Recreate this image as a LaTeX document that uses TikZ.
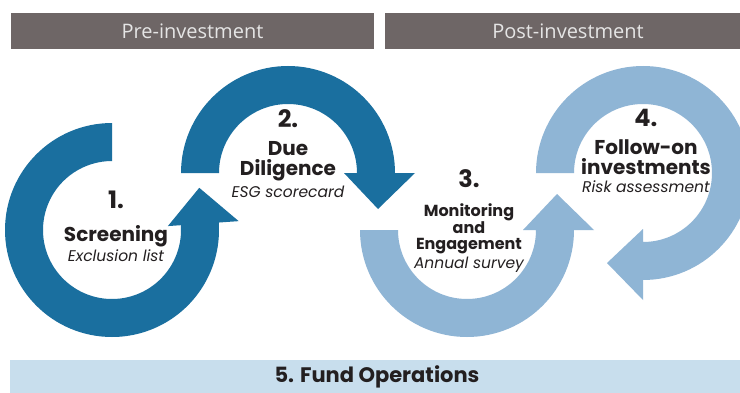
\documentclass[tikz,border=0pt]{standalone}
\usepackage{fontspec}
\setmainfont{Poppins}
\newfontfamily\phasefont{Open Sans}
\usetikzlibrary{positioning, calc}
\definecolor{darkstep}{RGB}{26,111,159}
\definecolor{lightstep}{RGB}{143,181,213}
\definecolor{phasegray}{RGB}{110,102,102}
\definecolor{opsblue}{RGB}{200,222,237}
\definecolor{inkcolor}{RGB}{35,31,32}

\begin{document}
\begin{tikzpicture}[
    x=1pt, y=1pt,
    phase/.style={fill=phasegray, text=white!90!black, minimum height=36pt, inner sep=0pt, font=\phasefont\fontsize{20}{22}\selectfont},
    stepnum/.style={text=inkcolor, inner sep=1pt, font=\bfseries\fontsize{24}{24}\selectfont},
    steptitle/.style={text=inkcolor, inner sep=1pt, align=center, font=\bfseries\fontsize{20}{20}\selectfont},
    stepnote/.style={text=inkcolor, inner sep=1pt, font=\itshape\fontsize{15.5}{17}\selectfont},
    opsbar/.style={fill=opsblue, text=inkcolor, minimum height=34pt, inner sep=0pt, font=\bfseries\fontsize{21}{22}\selectfont}
]
    \useasboundingbox (0,0) rectangle (740,392);
    \clip (0,0) rectangle (740,392);
    \fill[white] (0,0) rectangle (740,392);

    % Phase headers
    \node[phase, minimum width=363pt] (prephase) at (192.5,361) {Pre-investment};
    \node[phase, minimum width=366pt] (postphase) at (568,361) {Post-investment};

    % Circle centres
    \coordinate (c1) at (112,162);
    \coordinate (c2) at (288,219);
    \coordinate (c3) at (467,162);
    \coordinate (c4) at (643,219);

    % Cycle arrows
    \fill[darkstep] ($(c1)+(90:107)$) arc[start angle=90, end angle=364, radius=107pt]
        -- ($(c1)+(364:127)$) -- ($(c1)+(364:90)+(454:36)$) -- ($(c1)+(364:56)$)
        -- ($(c1)+(364:69)$) arc[start angle=364, end angle=90, radius=69pt] -- cycle;
    \fill[darkstep] ($(c2)+(180:107)$) arc[start angle=180, end angle=0, radius=107pt]
        -- ($(c2)+(0:127)$) -- ($(c2)+(0:90)+(-90:36)$) -- ($(c2)+(0:56)$)
        -- ($(c2)+(0:69)$) arc[start angle=0, end angle=180, radius=69pt] -- cycle;
    \fill[lightstep] ($(c3)+(180:107)$) arc[start angle=180, end angle=360, radius=107pt]
        -- ($(c3)+(0:127)$) -- ($(c3)+(0:90)+(90:36)$) -- ($(c3)+(0:56)$)
        -- ($(c3)+(0:69)$) arc[start angle=360, end angle=180, radius=69pt] -- cycle;
    \fill[lightstep] ($(c4)+(180:107)$) arc[start angle=180, end angle=-90, radius=107pt]
        -- ($(c4)+(-90:127)$) -- ($(c4)+(-90:90)+(180:36)$) -- ($(c4)+(-90:56)$)
        -- ($(c4)+(-90:69)$) arc[start angle=-90, end angle=180, radius=69pt] -- cycle;

    % Step texts
    \node[stepnum] (num1) at (116,192) {1.};
    \node[steptitle, below=14pt of num1] (title1) {Screening};
    \node[stepnote, below=1pt of title1] (note1) {Exclusion list};

    \node[stepnum] (num2) at (288,273) {2.};
    \node[steptitle, below=11pt of num2] (title2) {Due\\Diligence};
    \node[stepnote, below=3pt of title2] (note2) {ESG scorecard};

    \node[stepnum] (num3) at (469,213) {3.};
    \node[steptitle, below=13pt of num3, font=\bfseries\fontsize{16}{15.5}\selectfont] (title3) {Monitoring\\and\\Engagement};
    \node[stepnote, below=1pt of title3] (note3) {Annual survey};

    \node[stepnum] (num4) at (646,274) {4.};
    \node[steptitle, below=11pt of num4] (title4) {Follow-on\\investments};
    \node[stepnote, below=3pt of title4] (note4) {Risk assessment};

    % Fund operations bar
    \node[opsbar, minimum width=734pt] (fundops) at (377,15) {5. Fund Operations};
\end{tikzpicture}
\end{document}
